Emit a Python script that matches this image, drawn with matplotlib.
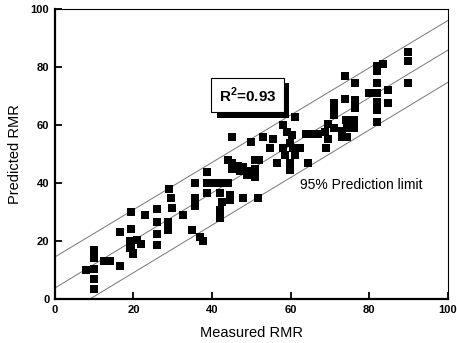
import matplotlib.pyplot as plt
import matplotlib.patheffects as pe

plt.rcParams['font.family'] = ['Liberation Sans', 'DejaVu Sans']
plt.rcParams['mathtext.fontset'] = 'custom'
plt.rcParams['mathtext.rm'] = 'Liberation Sans'
plt.rcParams['mathtext.bf'] = 'Liberation Sans:bold'

# measured vs predicted RMR
measured = [8, 10, 10, 10, 10, 10,
            12.5, 14, 16.5, 16.5,
            19.5, 19.5, 19, 19.5, 20, 21, 22, 19, 20,
            23, 26, 26, 26, 26,
            29, 29.5, 29.8, 28.8, 28.8, 32.6,
            35.6, 35.6, 35.6, 35, 37, 37.7,
            38.7, 38.7, 40, 42, 44, 38.7, 42, 42.5, 42, 42,
            44.5, 44.5, 45, 45, 44, 45,
            46.5, 48, 49, 47, 48, 49,
            50, 51, 51, 51, 52, 51.6,
            53, 55.5, 54.7, 58, 61, 59, 60.3, 59.8, 58, 60.6, 62.3, 58.5, 61,
            56.5, 59.8, 59.8, 64.4,
            64, 65.5, 67, 68.7, 69.5, 69.5, 69,
            71, 71, 71, 71, 73, 73,
            73.8, 76.3, 73.8, 76.3, 76.3, 74, 76, 74.3, 76, 74.3,
            82, 83.5, 82, 82, 80, 82, 82, 82, 84.7, 84.7, 82,
            89.8, 89.8, 89.8]
predicted = [10, 17, 14, 10.5, 7, 3.5,
             13, 13, 11.5, 23,
             30, 24, 20, 18, 16, 20.5, 19, 17.5, 15.5,
             29, 31, 26.5, 22.5, 18.6,
             38, 35, 31.5, 26.5, 23.8, 29,
             40, 35, 32, 23.8, 21.4, 20,
             43.8, 40, 40, 40, 40, 36.5, 36.5, 33.4, 30.7, 28,
             35.8, 34, 45, 47, 48, 56,
             46, 45.5, 44, 44, 34.8, 42.7,
             54, 48, 45, 42, 48, 35,
             56, 55, 52, 60, 62.7, 57.5, 56.5, 53.8, 52, 52, 52, 49.6, 49.6,
             47, 47, 44.5, 47,
             57, 57, 57, 57.5, 60.5, 55, 52,
             67.5, 63.4, 65.8, 59, 58, 56,
             77, 74.5, 69, 68.6, 66, 61.7, 61.7, 59, 59, 56,
             80.5, 81, 78.5, 74.6, 71, 71, 68, 65, 72, 67.5, 61,
             85, 82, 74.6]

# regression line and 95% prediction limits (end points)
line_x = [0, 100]
fit_y = [3.8, 85.8]
upper_y = [14.5, 96.0]
lower_y = [-7.3, 74.7]

fig = plt.figure(figsize=(4.57, 3.43), dpi=100)
ax = fig.add_axes([0.120, 0.128, 0.860, 0.846])

for yy in (fit_y, upper_y, lower_y):
    ax.plot(line_x, yy, color='#777777', lw=0.7, zorder=1)
ax.scatter(measured, predicted, marker='s', s=36, color='black', lw=0, zorder=2)

ax.set_xlim(0, 100)
ax.set_ylim(0, 100)
ax.set_xticks(range(0, 101, 20))
ax.set_yticks(range(0, 101, 20))
ax.tick_params(direction='in', length=5, width=1.3, labelsize=8, pad=4)
for lab in ax.get_xticklabels() + ax.get_yticklabels():
    lab.set_fontweight('bold')
ax.spines['left'].set_linewidth(1.6)
ax.spines['bottom'].set_linewidth(1.6)
ax.spines['top'].set_linewidth(0.8)
ax.spines['right'].set_linewidth(0.8)

ax.set_xlabel('Measured RMR', fontsize=10.5, labelpad=8)
ax.set_ylabel('Predicted RMR', fontsize=10.5, labelpad=6)

r2 = ax.text(49, 70.3, 'R$^{\\mathbf{2}}$=0.93', fontsize=11, fontweight='bold',
             ha='center', va='center', zorder=5,
             bbox=dict(boxstyle='square,pad=0.5', fc='white', ec='black', lw=0.8))
r2.get_bbox_patch().set_path_effects([
    pe.SimplePatchShadow(offset=(4, -4), shadow_rgbFace='black', alpha=1.0),
    pe.Normal()])
ax.text(62.3, 39.3, '95% Prediction limit', fontsize=10, ha='left', va='center')

fig.savefig('out.png', dpi=100)
